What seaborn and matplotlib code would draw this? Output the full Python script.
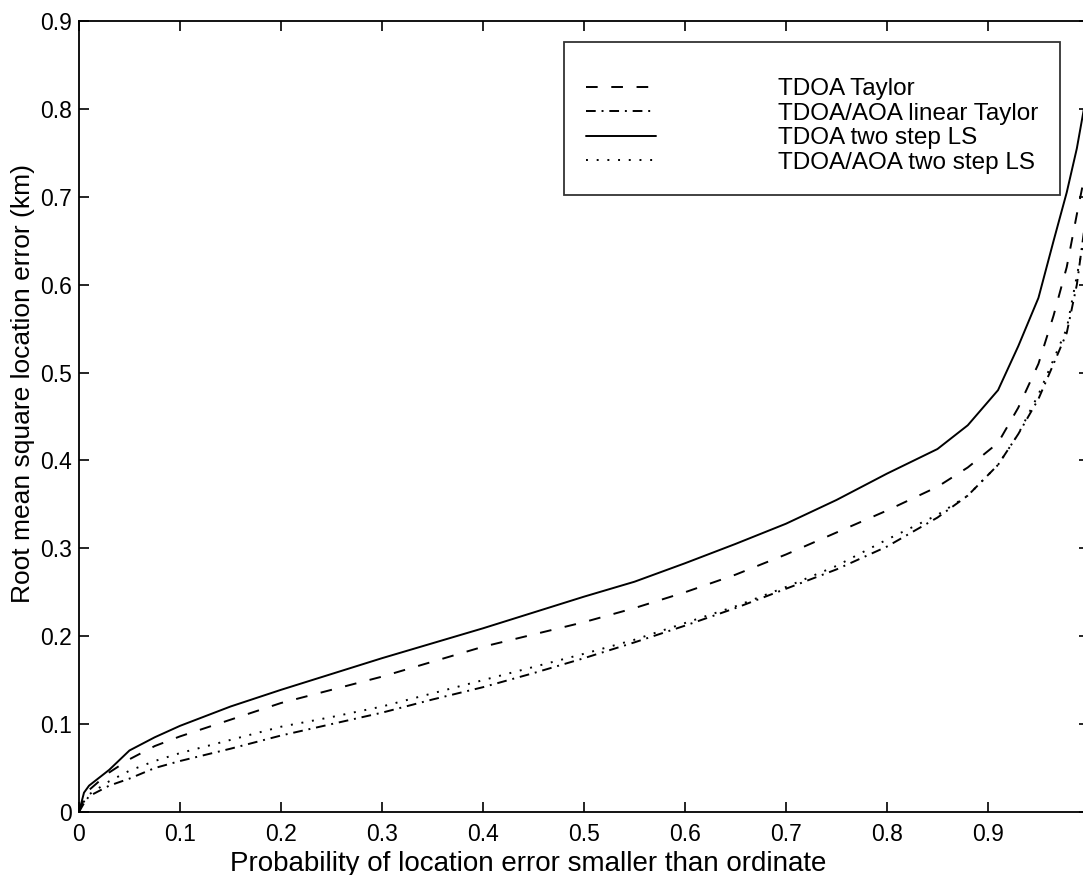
import seaborn as sns
import pandas as pd
import matplotlib.pyplot as plt

# probability values (x axis)
prob = [0.0, 0.005, 0.01, 0.03, 0.05, 0.075, 0.1, 0.15, 0.2, 0.25, 0.3, 0.35, 0.4,
        0.45, 0.5, 0.55, 0.6, 0.65, 0.7, 0.75, 0.8, 0.85, 0.88, 0.91, 0.93, 0.95,
        0.965, 0.978, 0.988, 0.995, 1.0]

tdoa_taylor = [0.0, 0.015, 0.025, 0.045, 0.06, 0.075, 0.086, 0.105, 0.124, 0.139,
               0.154, 0.171, 0.188, 0.202, 0.216, 0.232, 0.25, 0.27, 0.293, 0.318,
               0.343, 0.37, 0.392, 0.42, 0.46, 0.51, 0.565, 0.62, 0.68, 0.72, 0.74]
aoa_linear_taylor = [0.0, 0.01, 0.018, 0.03, 0.038, 0.05, 0.058, 0.072, 0.087, 0.1,
                     0.113, 0.128, 0.142, 0.158, 0.175, 0.193, 0.212, 0.232, 0.254,
                     0.276, 0.302, 0.335, 0.36, 0.395, 0.43, 0.47, 0.51, 0.545, 0.6,
                     0.66, 0.69]
tdoa_two_step = [0.0, 0.022, 0.03, 0.048, 0.07, 0.085, 0.098, 0.12, 0.139, 0.157,
                 0.175, 0.192, 0.209, 0.227, 0.245, 0.262, 0.283, 0.305, 0.328, 0.355,
                 0.385, 0.413, 0.44, 0.48, 0.53, 0.585, 0.65, 0.705, 0.755, 0.8, 0.82]
aoa_two_step = [0.0, 0.012, 0.02, 0.035, 0.047, 0.058, 0.067, 0.082, 0.097, 0.108,
                0.12, 0.135, 0.15, 0.165, 0.18, 0.196, 0.215, 0.234, 0.256, 0.28,
                0.31, 0.338, 0.36, 0.395, 0.43, 0.475, 0.515, 0.55, 0.61, 0.65, 0.68]

names = ["TDOA Taylor", "TDOA/AOA linear Taylor", "TDOA two step LS", "TDOA/AOA two step LS"]
series = [tdoa_taylor, aoa_linear_taylor, tdoa_two_step, aoa_two_step]

rows = []
for name, vals in zip(names, series):
    for p, v in zip(prob, vals):
        rows.append({"prob": p, "err": v, "method": name})
df = pd.DataFrame(rows)

sns.set_style("ticks")
plt.rcParams['font.family'] = ['Liberation Sans', 'DejaVu Sans']
plt.rcParams.update({'xtick.direction': 'in', 'ytick.direction': 'in',
                     'text.color': 'black', 'axes.labelcolor': 'black',
                     'xtick.color': 'black', 'ytick.color': 'black',
                     'axes.edgecolor': 'black'})

fig = plt.figure(figsize=(10.83, 8.75), dpi=100)
ax = fig.add_axes([0.0729, 0.072, 0.9326, 0.904])

dashes = {
    "TDOA Taylor": (6, 7),
    "TDOA/AOA linear Taylor": (5, 3, 1, 3),
    "TDOA two step LS": "",
    "TDOA/AOA two step LS": (1, 4.5),
}
sns.lineplot(data=df, x="prob", y="err", hue="method", style="method",
             palette=["black"] * 4, dashes=dashes, linewidth=1.4, ax=ax,
             hue_order=names, style_order=names)

ax.set_xlim(0, 1)
ax.set_ylim(0, 0.9)
xt = [0, 0.1, 0.2, 0.3, 0.4, 0.5, 0.6, 0.7, 0.8, 0.9]
ax.set_xticks(xt)
ax.set_xticklabels(["0"] + [f"{t:.1f}" for t in xt[1:]])
yt = [0, 0.1, 0.2, 0.3, 0.4, 0.5, 0.6, 0.7, 0.8, 0.9]
ax.set_yticks(yt)
ax.set_yticklabels(["0"] + [f"{t:.1f}" for t in yt[1:]])
ax.tick_params(top=True, right=True, labelsize=16.5, length=7, width=1.2)
ax.tick_params(axis="x", pad=8)
ax.tick_params(axis="y", pad=5)
for s in ax.spines.values():
    s.set_linewidth(1.3)

ax.set_xlabel("Probability of location error smaller than ordinate", fontsize=20)
ax.xaxis.set_label_coords(0.4446, -0.049)
ax.set_ylabel("Root mean square location error (km)", fontsize=19, va="center")
ax.yaxis.set_label_coords(-0.055, 0.542)

leg = ax.legend(loc="upper right", bbox_to_anchor=(0.971, 0.9735), borderaxespad=0,
                fontsize=17.5, frameon=True, fancybox=False, edgecolor="black",
                handlelength=2.9, handletextpad=5.0, labelspacing=0.1, borderpad=0.9,
                title=" ", title_fontsize=8.5)
leg.get_frame().set_linewidth(1.3)

fig.savefig("out.png", dpi=100, facecolor="white")
